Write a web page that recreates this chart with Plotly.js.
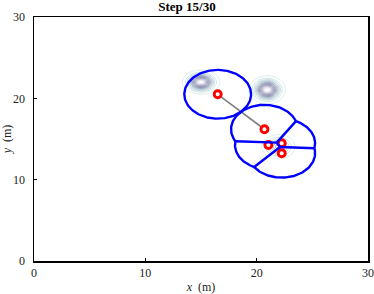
<!DOCTYPE html>
<html><head><meta charset="utf-8">
<script src="https://cdn.plot.ly/plotly-3.0.1.min.js"></script>
<style>html,body{margin:0;padding:0;background:#fff}#chart{width:374px;height:294px}</style>
</head><body><div id="chart"></div>
<script>
// ---- data ----
const stepText = 'Step 15/30';
const robotX = [16.5, 20.7, 21.05, 22.25, 22.25];
const robotY = [20.5, 16.2, 14.27, 14.48, 13.25];
const sensingRadius = 3;
const linkFrom = [0];
const linkTo = [1];
// partition junctions inside the robot group
const junctionX = [21.8, 22.1];
const junctionY = [14.55, 14.02];
// partition edges: from outer intersection of circles (edgeRobotA, edgeRobotB) to a junction
const edgeRobotA = [1, 1, 3, 2];
const edgeRobotB = [2, 3, 4, 4];
const edgeJunction = [0, 0, 1, 1];
// edges between junctions
const innerEdgeFrom = [0];
const innerEdgeTo = [1];
// cells: robot and its two neighbours along the outer boundary
const cellRobot = [1, 2, 3, 4];
const cellNbA = [2, 1, 1, 2];
const cellNbB = [3, 4, 4, 3];
// isolated robots (full sensing circle)
const soloRobot = [0];
// density peaks
const peakX = [15.0, 20.95, 21.95];
const peakY = [22.0, 21.05, 14.05];
const peakAmp = [1, 1, 0.5];
const peakSx = [0.66, 0.64, 0.66];
const peakSy = [0.58, 0.68, 0.66];
const xTicks = [0, 10, 20, 30];
const yTicks = [0, 10, 20, 30];

// ---- geometry helpers ----
const R = sensingRadius;
const jcx = junctionX.reduce((a,b)=>a+b,0)/junctionX.length;
const jcy = junctionY.reduce((a,b)=>a+b,0)/junctionY.length;
function dist(ax,ay,bx,by){return Math.hypot(ax-bx, ay-by);}
function outerIntersection(i,j){
  const x1=robotX[i], y1=robotY[i], x2=robotX[j], y2=robotY[j];
  const d=dist(x1,y1,x2,y2), a=d/2, h=Math.sqrt(Math.max(R*R-a*a,0));
  const mx=(x1+x2)/2, my=(y1+y2)/2, ux=(x2-x1)/d, uy=(y2-y1)/d;
  const p=[mx-uy*h, my+ux*h], q=[mx+uy*h, my-ux*h];
  return dist(p[0],p[1],jcx,jcy) > dist(q[0],q[1],jcx,jcy) ? p : q;
}
const bx=[], by=[];
function push(xs, ys){ for(let k=0;k<xs.length;k++){bx.push(xs[k]);by.push(ys[k]);} bx.push(null); by.push(null); }
soloRobot.forEach(r=>{
  const xs=[], ys=[];
  for(let k=0;k<=180;k++){const t=2*Math.PI*k/180; xs.push(robotX[r]+R*Math.cos(t)); ys.push(robotY[r]+R*Math.sin(t));}
  push(xs,ys);
});
cellRobot.forEach((r,c)=>{
  const p1=outerIntersection(r,cellNbA[c]), p2=outerIntersection(r,cellNbB[c]);
  const cx=robotX[r], cy=robotY[r];
  let a1=Math.atan2(p1[1]-cy,p1[0]-cx), a2=Math.atan2(p2[1]-cy,p2[0]-cx);
  let span=a2-a1; while(span<0) span+=2*Math.PI;
  const midA=a1+span/2, midB=midA+Math.PI;
  const dA=dist(cx+R*Math.cos(midA),cy+R*Math.sin(midA),jcx,jcy);
  const dB=dist(cx+R*Math.cos(midB),cy+R*Math.sin(midB),jcx,jcy);
  let start=a1, sweep=span;
  if(dB>dA){ start=a2; sweep=2*Math.PI-span; }
  const xs=[], ys=[];
  for(let k=0;k<=80;k++){const t=start+sweep*k/80; xs.push(cx+R*Math.cos(t)); ys.push(cy+R*Math.sin(t));}
  push(xs,ys);
});
edgeRobotA.forEach((a,e)=>{
  const p=outerIntersection(a,edgeRobotB[e]);
  push([p[0], junctionX[edgeJunction[e]]],[p[1], junctionY[edgeJunction[e]]]);
});
innerEdgeFrom.forEach((f,e)=>{
  push([junctionX[f], junctionX[innerEdgeTo[e]]],[junctionY[f], junctionY[innerEdgeTo[e]]]);
});
const lx=[], ly=[];
linkFrom.forEach((f,e)=>{ lx.push(robotX[f], robotX[linkTo[e]], null); ly.push(robotY[f], robotY[linkTo[e]], null); });
const gx=[], gy=[];
for(let k=0;k<=300;k++){gx.push(k*0.1); gy.push(k*0.1);}
const gz=gy.map(y=>gx.map(x=>{
  let s=0; for(let p=0;p<peakX.length;p++){
    const dx=(x-peakX[p])/peakSx[p], dy=(y-peakY[p])/peakSy[p];
    s+=peakAmp[p]*Math.exp(-0.5*(dx*dx+dy*dy));
  } return s;}));

const traces=[
  {type:'contour', x:gx, y:gy, z:gz, showscale:false, hoverinfo:'skip',
   contours:{coloring:'lines', start:0.04, end:0.96, size:0.07},
   line:{width:0.9, smoothing:1},
   colorscale:[[0,'#d4eaea'],[0.28,'#a8c4cc'],[0.55,'#8686aa'],[0.8,'#9a9aba'],[1,'#e4e4ee']]},
  {type:'scatter', mode:'lines', x:lx, y:ly, line:{color:'#808080', width:1.6}, hoverinfo:'skip'},
  {type:'scatter', mode:'markers', x:robotX, y:robotY,
   marker:{symbol:'circle', size:7, color:'#ffffff', line:{color:'#ff0000', width:2.9}}, hoverinfo:'skip'},
  {type:'scatter', mode:'lines', x:bx, y:by, connectgaps:false, line:{color:'#0000ff', width:2.4}, hoverinfo:'skip'}
];
const serif='Liberation Serif, Times New Roman, serif';
const layout={
  width:374, height:294,
  margin:{l:34, r:6, t:17, b:33, pad:0},
  paper_bgcolor:'#ffffff', plot_bgcolor:'#ffffff', showlegend:false,
  font:{family:serif, size:12, color:'#222'},
  title:{text:'<b>'+stepText+'</b>', x:0.5, xref:'container', xanchor:'center', y:0.977, yref:'container', yanchor:'middle', font:{family:serif, size:13, color:'#000'}},
  xaxis:{range:[0,30], tickvals:xTicks, ticktext:xTicks.map(String), ticks:'inside', ticklen:3, tickcolor:'#000', tickwidth:1,
    showline:true, linecolor:'#000', linewidth:1.5, mirror:true, showgrid:false, zeroline:false, automargin:false,
    tickfont:{family:serif, size:12, color:'#222'},
    title:{text:'<i>x</i>  (m)', standoff:3, font:{family:serif, size:12, color:'#222'}}},
  yaxis:{range:[0,30], tickvals:yTicks, ticktext:yTicks.map(String), ticks:'inside', ticklen:3, tickcolor:'#000', tickwidth:1,
    showline:true, linecolor:'#000', linewidth:1.5, mirror:true, showgrid:false, zeroline:false, automargin:false, ticklabelstandoff:5,
    tickfont:{family:serif, size:12, color:'#222'},
    title:{text:'<i>y</i>  (m)', standoff:5, font:{family:serif, size:12, color:'#222'}}}
};
Plotly.newPlot('chart', traces, layout, {displayModeBar:false, staticPlot:true});
</script></body></html>
